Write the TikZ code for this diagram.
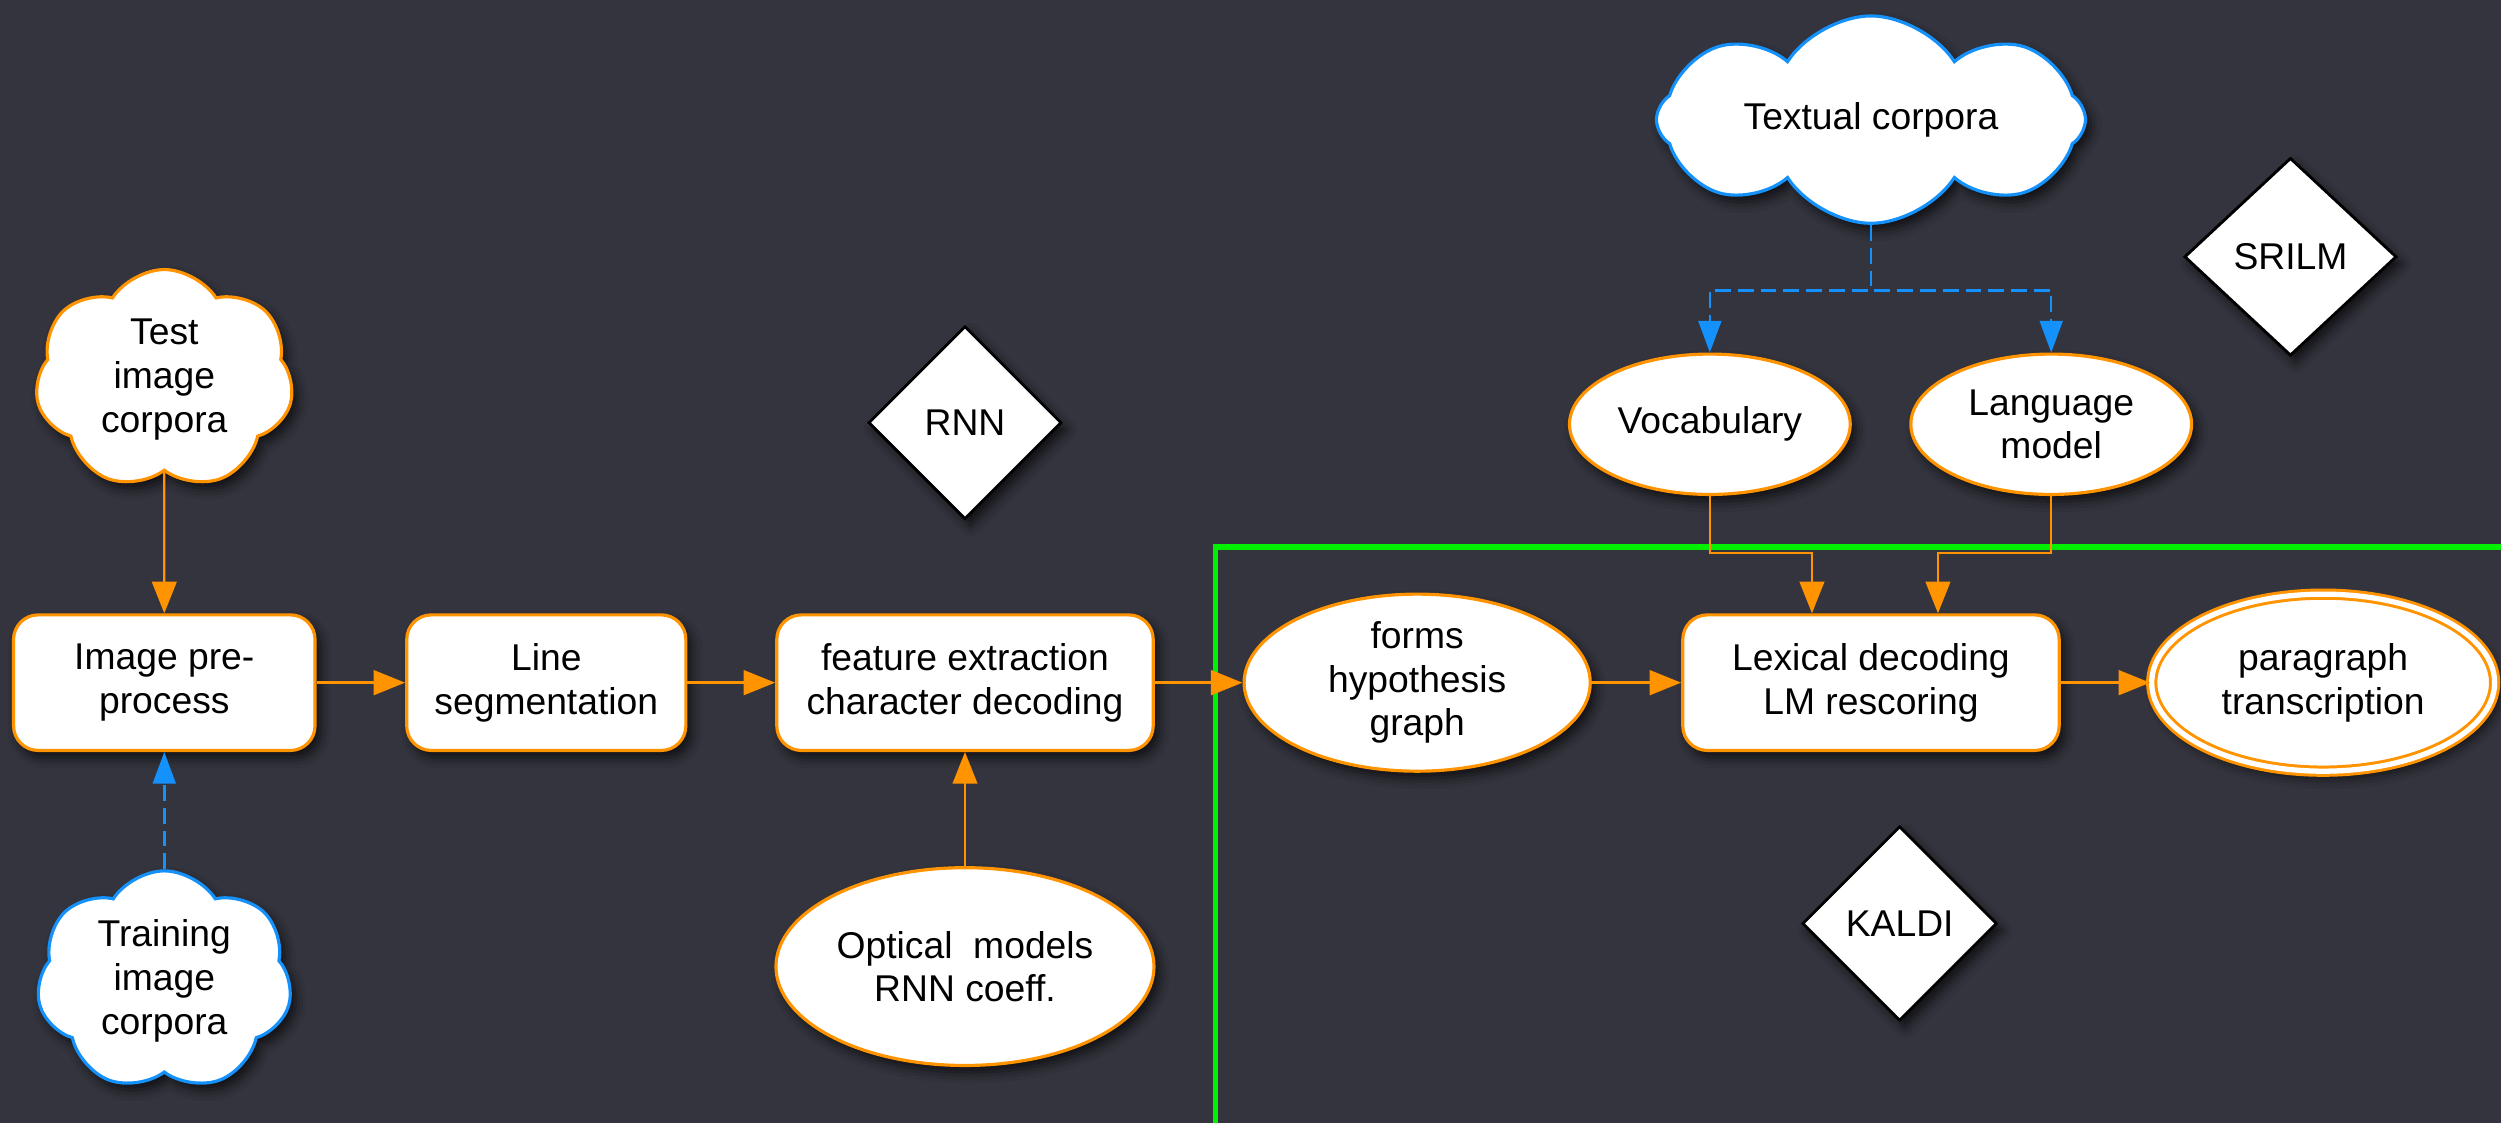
\documentclass[tikz,border=0pt]{standalone}
\usepackage{fontspec}
\setmainfont{Liberation Sans}
\usetikzlibrary{shapes.geometric,shapes.symbols,arrows.meta,shadows.blur,calc}
\definecolor{bgc}{RGB}{52,52,62}
\definecolor{ora}{RGB}{255,147,0}
\definecolor{blu}{RGB}{20,145,250}
\definecolor{grn}{RGB}{0,240,0}
\def\pu{0.01595cm}
\begin{document}
\begin{tikzpicture}[x=0.01595cm,y=-0.01595cm,
  font=\fontsize{10.6}{12.4}\selectfont,
  shd/.style={blur shadow={shadow xshift=1.5pt,shadow yshift=-2pt,shadow blur radius=3pt,shadow opacity=70}},
  pbox/.style={shd,rectangle,draw=ora,fill=white,line width=0.9pt,rounded corners=7pt,inner sep=0pt,align=center,minimum height={85*\pu}},
  pell/.style={shd,ellipse,draw=ora,fill=white,line width=0.9pt,inner sep=0pt,align=center},
  dia/.style={shd,diamond,draw=black,fill=white,line width=0.8pt,inner sep=0pt,align=center},
  cloudbase/.style={shd,cloud,cloud ignores aspect,fill=white,line width=0.9pt,inner sep=0pt},
  lbl/.style={align=center,inner sep=0pt},
  oarr/.style={draw=ora,line width=0.9pt,-{Triangle[length=9pt,width=7pt]}},
  oarrt/.style={oarr,line width=0.65pt},
  barr/.style={draw=blu,line width=0.7pt,dash pattern=on 4.5pt off 2pt,-{Triangle[length=9pt,width=6.5pt]}}
]
\useasboundingbox (0,0) rectangle (1568,704);
\fill[bgc] (0,0) rectangle (1568,704);
\clip (0,0) rectangle (1568,704);

% KALDI frame
\draw[grn,line width=1.6pt,line join=miter] (1600,343) -- (762,343) -- (762,720);

% clouds
\node[cloudbase,draw=ora,cloud puffs=7,cloud puff arc=115,shape border rotate=10,minimum width={162*\pu},minimum height={138*\pu}] (test) at (103,238) {};
\node[lbl] (testtxt) at (test.center) {Test\\image\\corpora};
\node[cloudbase,draw=blu,cloud puffs=7,cloud puff arc=115,shape border rotate=-15,minimum width={160*\pu},minimum height={138*\pu}] (train) at (103,615) {};
\node[lbl] (traintxt) at (train.center) {Training\\image\\corpora};
\node[cloudbase,draw=blu,cloud puffs=8,cloud puff arc=115,shape border rotate=5,minimum width={269*\pu},minimum height={130*\pu}] (textual) at (1173,75) {};
\node[lbl] (textualtxt) at (textual.center) {Textual corpora};

% main chain
\node[pbox,minimum width={189*\pu}] (pre) at (103,428) {Image pre-\\process};
\node[pbox,minimum width={175*\pu}] (seg) at (342.5,428) {Line\\segmentation};
\node[pbox,minimum width={236*\pu}] (feat) at (605,428) {feature extraction\\character decoding};
\node[pell,minimum width={217*\pu},minimum height={111*\pu}] (forms) at (888.5,428) {forms\\hypothesis\\graph};
\node[pbox,minimum width={236*\pu}] (lex) at (1173,428) {Lexical decoding\\LM rescoring};
\node[pell,double=white,double distance=1.5pt,line width=0.85pt,minimum width={215*\pu},minimum height={111*\pu}] (para) at (1456.5,428) {paragraph\\transcription};

\node[pell,minimum width={237*\pu},minimum height={124*\pu}] (optical) at (605,606) {Optical~~models\\RNN coeff.};
\node[pell,minimum width={176*\pu},minimum height={88*\pu}] (vocab) at (1072,266) {Vocabulary};
\node[pell,minimum width={176*\pu},minimum height={88*\pu}] (lm) at (1286,266) {Language\\model};

% tools
\node[dia,minimum width={121*\pu},minimum height={121*\pu}] (rnn) at (605,265) {RNN};
\node[dia,minimum width={122*\pu},minimum height={122*\pu}] (kaldi) at (1191,579) {KALDI};
\node[dia,minimum width={133*\pu},minimum height={124*\pu}] (srilm) at (1436,161) {SRILM};

% connectors
\draw[oarrt] (test.south) -- (pre.north);
\draw[barr] (train.north) -- (pre.south);
\draw[oarr] (pre) -- (seg);
\draw[oarr] (seg) -- (feat);
\draw[oarr] (feat) -- (forms);
\draw[oarr] (forms) -- (lex);
\draw[oarr] (lex) -- (para);
\draw[oarrt] (optical.north) -- (feat.south);

\coordinate (tsplit) at (1173,182);
\draw[barr] (textual.south) -- (tsplit) -| (vocab.north);
\draw[barr] (textual.south) -- (tsplit) -| (lm.north);

\draw[oarrt] (vocab.south) |- ($(lex.north)+(-37,-38)$) -- ($(lex.north)+(-37,0)$);
\draw[oarrt] (lm.south) |- ($(lex.north)+(42,-38)$) -- ($(lex.north)+(42,0)$);
\end{tikzpicture}
\end{document}
